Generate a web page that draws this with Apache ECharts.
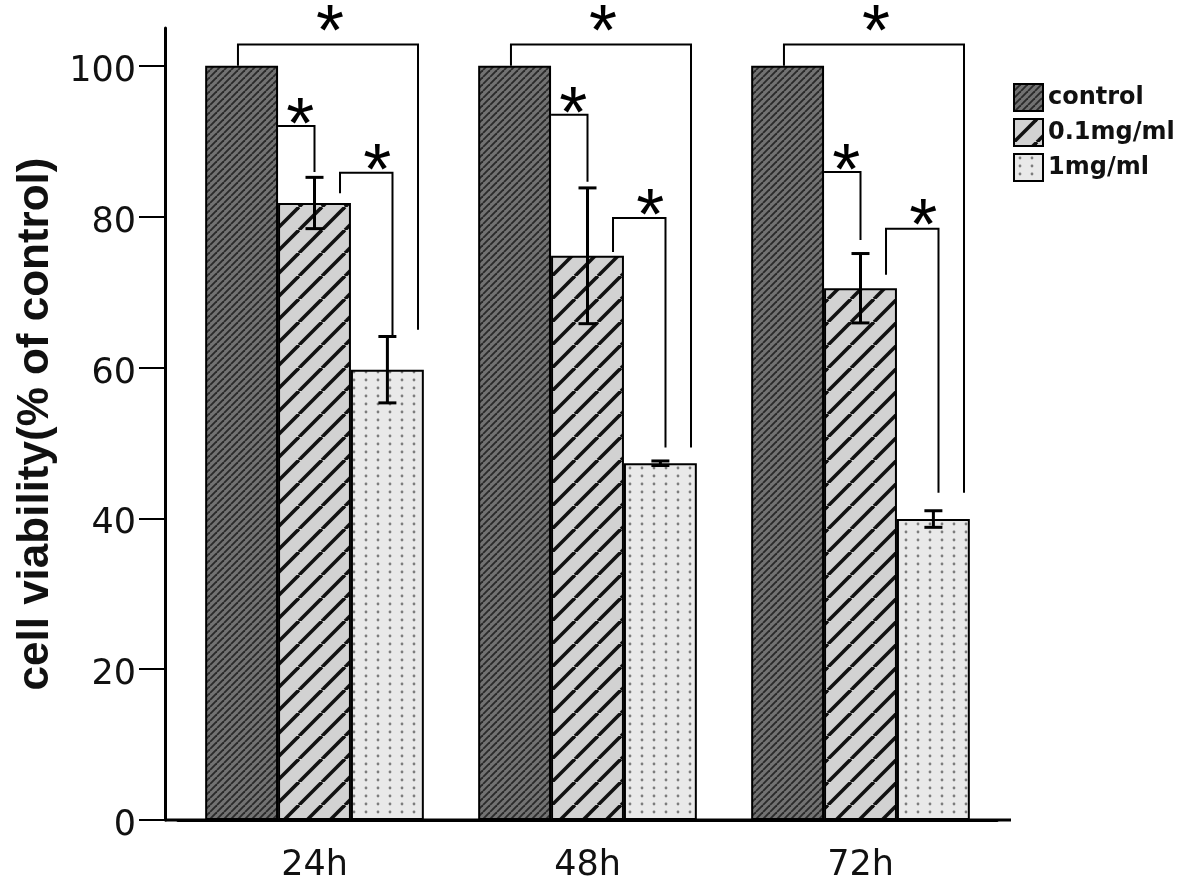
<!DOCTYPE html>
<html>
<head>
<meta charset="utf-8">
<script src="https://cdn.jsdelivr.net/npm/echarts@6/dist/echarts.min.js"></script>
<style>html,body{margin:0;padding:0;background:#fff;}#c{width:1181px;height:883px;}</style>
</head>
<body>
<div id="c"></div>
<script>
// ---------------- data ----------------
const categories = ['24h', '48h', '72h'];
const seriesNames = ['control', '0.1mg/ml', '1mg/ml'];
const controlValues = [100, 100, 100];
const lowDoseValues = [81.8, 74.8, 70.5];
const lowDoseErr = [3.4, 9.0, 4.6];
const highDoseValues = [59.7, 47.3, 39.9];
const highDoseErr = [4.4, 0.3, 1.1];
const yTicks = [0, 20, 40, 60, 80, 100];
// significance brackets: [category, kind, level, leftEnd, rightEnd, label]
// kind 0: control vs 1mg, 1: control vs 0.1mg, 2: 0.1mg vs 1mg
const brackets = [
  [0, 0, 102.8, 100, 65.0, '*'],
  [0, 1, 92.0, 92.0, 85.9, '*'],
  [0, 2, 85.8, 83.1, 64.3, '*'],
  [1, 0, 102.8, 100, 49.4, '*'],
  [1, 1, 93.5, 93.5, 84.6, '*'],
  [1, 2, 79.8, 75.3, 49.4, '*'],
  [2, 0, 102.8, 100, 43.4, '*'],
  [2, 1, 85.9, 85.9, 76.9, '*'],
  [2, 2, 78.4, 72.3, 43.4, '*']
];

// ---------------- styles ----------------
const BAR_FRAC = 0.267;
const KIND = [
  { from: 0, to: 2, fx0: -0.05, fx1: 0.42, gap: 15, dx: 2 },
  { from: 0, to: 1, fx0: 0.5, fx1: 0.0, gap: 4, dx: 4 },
  { from: 1, to: 2, fx0: 0.35, fx1: 0.07, gap: 5, dx: 11 }
];
const STAR_FONT = 72;
const STAR_SHIFT = 42;

function makePattern(kind) {
  const cv = document.createElement('canvas');
  const ctx = cv.getContext('2d');
  if (kind === 0) {
    const s = 7;
    cv.width = s; cv.height = s;
    ctx.fillStyle = '#727272'; ctx.fillRect(0, 0, s, s);
    ctx.strokeStyle = '#2a2a2a'; ctx.lineWidth = 1.9;
    for (const o of [-s, 0, s]) {
      ctx.beginPath(); ctx.moveTo(o, s); ctx.lineTo(o + s, 0); ctx.stroke();
    }
  } else if (kind === 1) {
    const s = 23;
    cv.width = s; cv.height = s;
    ctx.fillStyle = '#d2d2d2'; ctx.fillRect(0, 0, s, s);
    ctx.strokeStyle = '#111'; ctx.lineWidth = 3.6;
    for (const o of [-s, 0, s]) {
      ctx.beginPath(); ctx.moveTo(o, s); ctx.lineTo(o + s, 0); ctx.stroke();
    }
  } else {
    cv.width = 12; cv.height = 8;
    ctx.fillStyle = '#e9e9e9'; ctx.fillRect(0, 0, 12, 8);
    ctx.fillStyle = '#7c7c7c';
    ctx.beginPath(); ctx.arc(6, 4, 1.4, 0, Math.PI * 2); ctx.fill();
  }
  return { image: cv, repeat: 'repeat' };
}

const barStyle = (k) => ({ color: makePattern(k), borderColor: '#000', borderWidth: 2 });

const errData = [];
lowDoseValues.forEach((v, i) => errData.push([i, 1, v - lowDoseErr[i], v + lowDoseErr[i]]));
highDoseValues.forEach((v, i) => errData.push([i, 2, v - highDoseErr[i], v + highDoseErr[i]]));

function barCenter(api, cat, s) {
  const band = api.size([1, 0])[0];
  const bw = band * BAR_FRAC;
  return { x: api.coord([cat, 0])[0] + (s - 1) * bw, bw: bw };
}

const chart = echarts.init(document.getElementById('c'), null, { renderer: 'canvas' });
chart.setOption({
  animation: false,
  backgroundColor: '#fff',
  grid: { left: 178, right: 184, top: 28, bottom: 63 },
  legend: {
    data: seriesNames,
    orient: 'vertical',
    icon: 'rect',
    left: 1013, top: 83, padding: 0,
    itemWidth: 29, itemHeight: 27, itemGap: 6,
    textStyle: { fontFamily: 'DejaVu Sans', fontWeight: 'bold', fontSize: 24, color: '#111' },
    selectedMode: false
  },
  xAxis: {
    type: 'category',
    data: categories,
    axisLine: { lineStyle: { color: '#000', width: 3 } },
    axisTick: { alignWithLabel: true, length: 20, lineStyle: { color: '#000', width: 2 } },
    axisLabel: { fontFamily: 'DejaVu Sans', fontSize: 35, color: '#111', margin: 28 }
  },
  yAxis: {
    type: 'value',
    min: 0, max: 105, interval: 20,
    offset: 13,
    name: 'cell viability(% of control)',
    nameLocation: 'middle',
    nameGap: 103,
    nameTextStyle: { fontFamily: '"Liberation Sans Narrow", "Arial Narrow", "Liberation Sans"', fontWeight: 'bold', fontSize: 44, color: '#111' },
    splitLine: { show: false },
    axisLine: { show: true, lineStyle: { color: '#000', width: 3 } },
    axisTick: { show: true, length: 26, customValues: yTicks, lineStyle: { color: '#000', width: 2 } },
    axisLabel: { customValues: yTicks, fontFamily: 'DejaVu Sans', fontSize: 35, color: '#111', margin: 29, verticalAlign: 'top', lineHeight: 12 }
  },
  graphic: [
    { type: 'line', shape: { x1: 165, y1: 820, x2: 1011, y2: 820 }, style: { stroke: '#000', lineWidth: 3 }, z: 10 }
  ],
  series: [
    { name: seriesNames[0], type: 'bar', data: controlValues, barWidth: (BAR_FRAC * 100) + '%', barGap: '0%', itemStyle: barStyle(0) },
    { name: seriesNames[1], type: 'bar', data: lowDoseValues, barWidth: (BAR_FRAC * 100) + '%', barGap: '0%', itemStyle: barStyle(1) },
    { name: seriesNames[2], type: 'bar', data: highDoseValues, barWidth: (BAR_FRAC * 100) + '%', barGap: '0%', itemStyle: barStyle(2) },
    {
      name: 'err', type: 'custom', data: errData, encode: { x: 0, y: 3 }, z: 5,
      renderItem: function (params, api) {
        const cat = api.value(0), s = api.value(1);
        const c = barCenter(api, cat, s);
        const lo = api.coord([cat, api.value(2)])[1];
        const hi = api.coord([cat, api.value(3)])[1];
        const cap = 9;
        const st = { stroke: '#000', lineWidth: 3 };
        return { type: 'group', children: [
          { type: 'line', shape: { x1: c.x, y1: lo, x2: c.x, y2: hi }, style: st },
          { type: 'line', shape: { x1: c.x - cap, y1: hi, x2: c.x + cap, y2: hi }, style: st },
          { type: 'line', shape: { x1: c.x - cap, y1: lo, x2: c.x + cap, y2: lo }, style: st }
        ] };
      }
    },
    {
      name: 'sig', type: 'custom', data: brackets, encode: { x: 0, y: 2 }, z: 6,
      renderItem: function (params, api) {
        const cat = api.value(0), k = KIND[api.value(1)];
        const a = barCenter(api, cat, k.from), b = barCenter(api, cat, k.to);
        const x0 = a.x + k.fx0 * a.bw, x1 = b.x + k.fx1 * b.bw;
        const yl = api.coord([cat, api.value(2)])[1];
        const y0 = api.coord([cat, api.value(3)])[1];
        const y1 = api.coord([cat, api.value(4)])[1];
        return { type: 'group', children: [
          { type: 'polyline', shape: { points: [[x0, y0], [x0, yl], [x1, yl], [x1, y1]] }, style: { stroke: '#000', lineWidth: 2, fill: null } },
          { type: 'text', style: { text: brackets[params.dataIndex][5], x: (x0 + x1) / 2 + k.dx, y: yl - k.gap + STAR_SHIFT, align: 'center', verticalAlign: 'bottom', font: STAR_FONT + 'px "Liberation Sans"', fill: '#000' } }
        ] };
      }
    }
  ]
});
</script>
</body>
</html>
